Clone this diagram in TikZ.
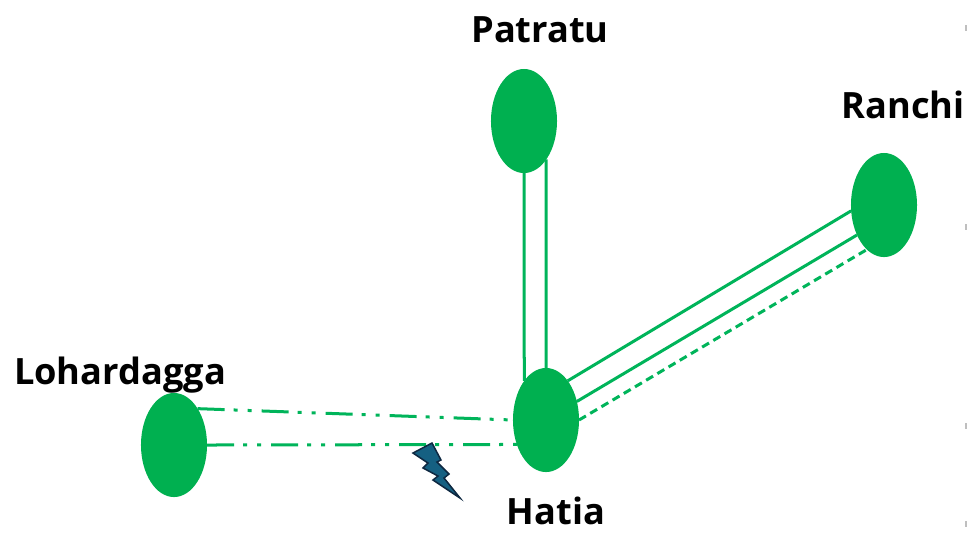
\documentclass[tikz,border=0pt]{standalone}
\usepackage{fontspec}
\setmainfont{Open Sans}
\usetikzlibrary{shapes.geometric}

\definecolor{busgreen}{RGB}{0,176,80}
\definecolor{linegreen}{RGB}{0,180,90}
\definecolor{boltblue}{RGB}{21,96,130}
\definecolor{boltedge}{RGB}{14,40,65}

\tikzset{
  bus/.style={ellipse, fill=busgreen, minimum width=0.66cm, minimum height=1.04cm, inner sep=0pt, outer sep=0pt},
  busname/.style={font=\fontsize{10.3}{11}\selectfont\bfseries, text=black, inner sep=0pt, anchor=base},
  solidline/.style={draw=linegreen, line width=0.03cm},
  dashline/.style={draw=linegreen, line width=0.03cm, dash pattern=on 0.08cm off 0.05cm},
  faultline/.style={draw=linegreen, line width=0.03cm, dash pattern=on 0.27cm off 0.09cm on 0.04cm off 0.10cm on 0.04cm off 0.10cm}
}

\begin{document}
\begin{tikzpicture}[x=0.01cm, y=-0.01cm]
\useasboundingbox (0,0) rectangle (969,532);

\node[bus] (patratu) at (524,121) {};
\node[bus] (ranchi) at (884,205) {};
\node[bus] (hatia) at (546,420) {};
\node[bus] (lohardagga) at (174,445) {};

\node[busname] (patratuname) at (540,42) {Patratu};
\node[busname] (ranchiname) at (903,118) {Ranchi};
\node[busname] (hatianame) at (556,524) {Hatia};
\node[busname] (lohardagganame) at (120,384) {Lohardagga};

\draw[solidline] (patratu.south) -- (hatia.119.4);
\draw[solidline] (patratu.-60.6) -- (hatia.north);

\draw[solidline] (hatia.61) -- (ranchi.190.3);
\draw[solidline] (hatia.31.5) -- (ranchi.228);
\draw[dashline] (hatia.east) -- (ranchi.249);

\draw[faultline] (lohardagga.57.4) -- (hatia.west);
\draw[faultline] (lohardagga.east) -- (hatia.220.8);

% fault
\draw[fill=boltblue, draw=boltedge, line width=0.015cm, line join=miter]
  (413,453) -- (432,443) -- (441,460) -- (437,462) -- (449,474) -- (444,478)
  -- (460,498) -- (433,480) -- (438,476) -- (423,468) -- (428,463) -- cycle;

% marks on the right edge
\foreach \y in {28,227,426,524}
  \draw[gray!50, line width=0.012cm] (966,\y-3) -- (966,\y+3);
\end{tikzpicture}
\end{document}
